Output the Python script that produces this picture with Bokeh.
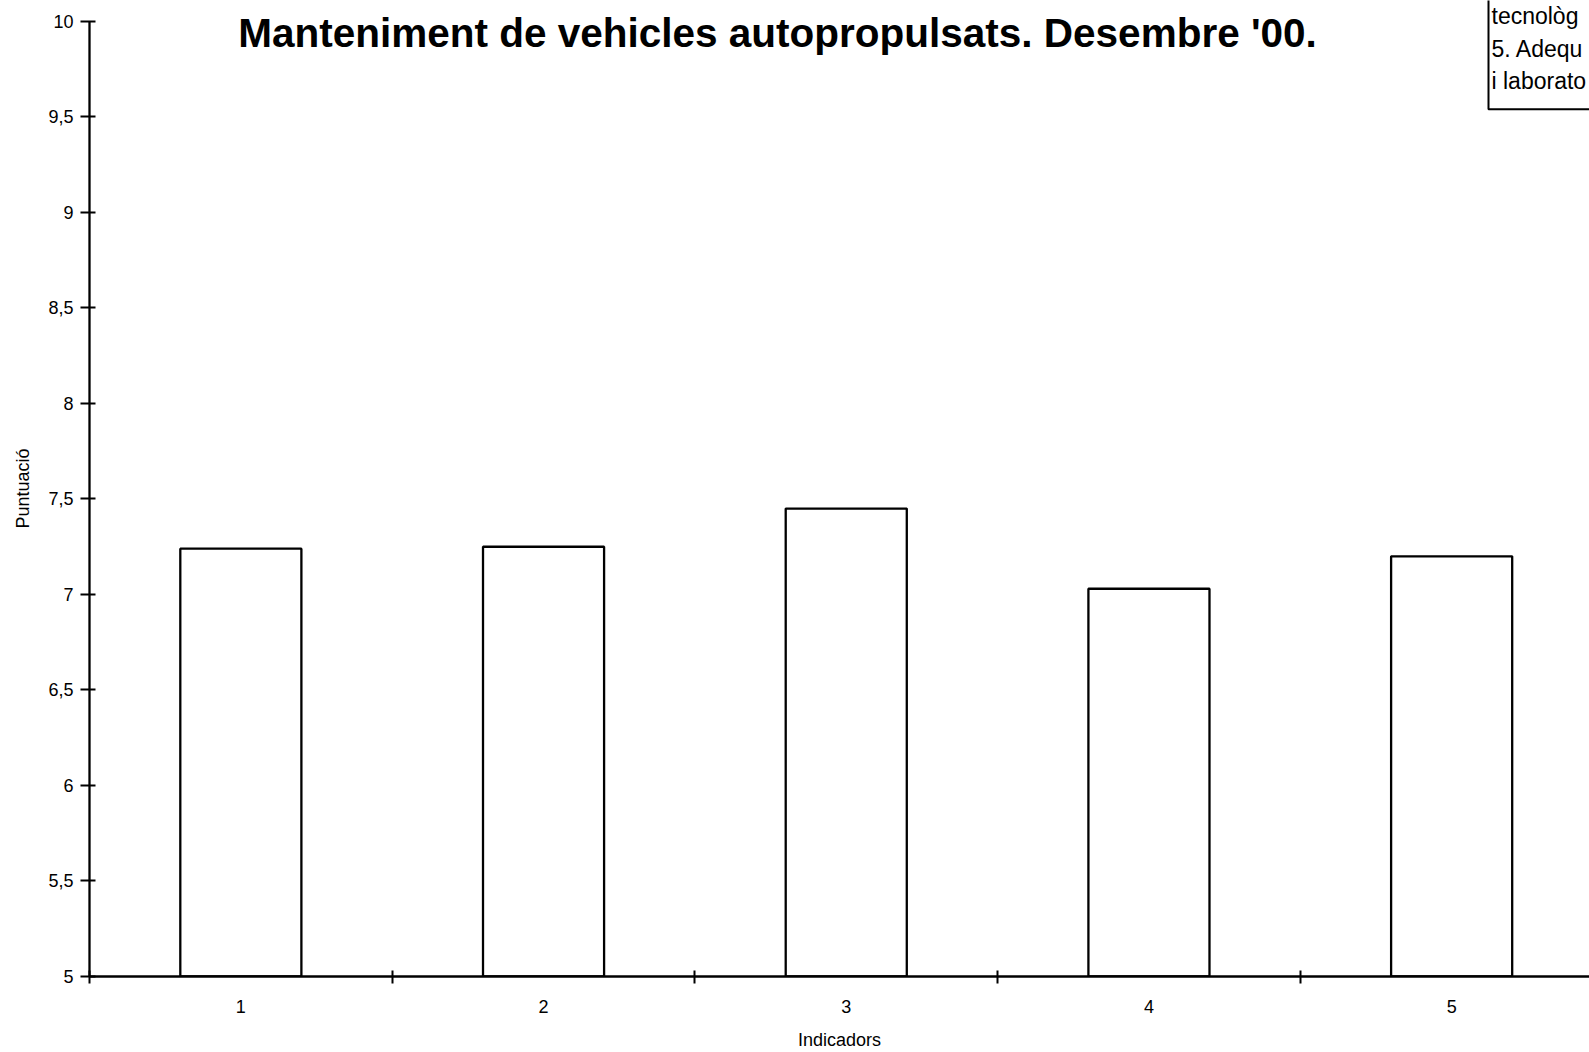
from bokeh.plotting import figure
from bokeh.models import Range1d, FixedTicker, LinearAxis, Label, BoxAnnotation
from bokeh.embed import file_html
from bokeh.resources import INLINE

# ---- data ----
categories = [1, 2, 3, 4, 5]
scores = [7.24, 7.25, 7.45, 7.03, 7.20]
x_boundaries = [0.5, 1.5, 2.5, 3.5, 4.5]
y_ticks = [5, 5.5, 6, 6.5, 7, 7.5, 8, 8.5, 9, 9.5, 10]
y_tick_labels = ["5", "5,5", "6", "6,5", "7", "7,5", "8", "8,5", "9", "9,5", "10"]
title_text = "Manteniment de vehicles autopropulsats. Desembre '00."
note_lines = ["tecnològ", "5. Adequ", "i laborato"]

# ---- geometry (page pixels) ----
W, H = 1589, 1052
LEFT, BOTTOM = 89, 74
PX_PER_CAT = 302.7
PX_PER_UNIT = 191.4
frame_w = W - LEFT
frame_h = H - BOTTOM
x_start = 0.5
x_end = x_start + frame_w / PX_PER_CAT
y_start = 5
y_end = y_start + frame_h / PX_PER_UNIT


def px_x(page_x):
    return x_start + (page_x - LEFT) / PX_PER_CAT


def px_y(page_y):
    return y_start + (H - BOTTOM - page_y) / PX_PER_UNIT


FONT = "Liberation Sans"

p = figure(width=W, height=H, output_backend="svg", toolbar_location=None,
           x_range=Range1d(x_start, x_end), y_range=Range1d(y_start, y_end),
           x_axis_type=None, y_axis_type=None, title_location=None,
           min_border_left=LEFT, min_border_right=0, min_border_top=0,
           min_border_bottom=BOTTOM)
p.outline_line_color = None
p.background_fill_color = "white"
p.border_fill_color = "white"
p.xgrid.visible = False
p.ygrid.visible = False

p.vbar(x=categories, top=scores, bottom=5, width=0.4,
       fill_color="white", line_color="black", line_width=2.3)

xaxis = LinearAxis(ticker=FixedTicker(ticks=categories, minor_ticks=x_boundaries),
                   axis_label="Indicadors")
xaxis.axis_line_width = 2.3
xaxis.axis_line_color = "black"
xaxis.major_tick_in = 0
xaxis.major_tick_out = 0
xaxis.minor_tick_in = 6
xaxis.minor_tick_out = 7
xaxis.minor_tick_line_width = 2
xaxis.minor_tick_line_color = "black"
xaxis.major_label_standoff = 16
xaxis.major_label_text_font = FONT
xaxis.major_label_text_font_size = "18px"
xaxis.major_label_text_color = "black"
xaxis.axis_label_standoff = 14
xaxis.axis_label_text_font = FONT
xaxis.axis_label_text_font_size = "18px"
xaxis.axis_label_text_font_style = "normal"
xaxis.axis_label_text_color = "black"
p.add_layout(xaxis, "below")

yaxis = LinearAxis(ticker=FixedTicker(ticks=y_ticks), axis_label="Puntuació",
                   bounds=(5, 10))
yaxis.major_label_overrides = {float(t): l for t, l in zip(y_ticks, y_tick_labels)}
yaxis.axis_line_width = 2.3
yaxis.axis_line_color = "black"
yaxis.major_tick_in = 6
yaxis.major_tick_out = 9
yaxis.major_tick_line_width = 2
yaxis.major_tick_line_color = "black"
yaxis.minor_tick_in = 0
yaxis.minor_tick_out = 0
yaxis.major_label_standoff = 7
yaxis.major_label_text_font = FONT
yaxis.major_label_text_font_size = "18px"
yaxis.major_label_text_color = "black"
yaxis.axis_label_standoff = 12
yaxis.axis_label_text_font = FONT
yaxis.axis_label_text_font_size = "18px"
yaxis.axis_label_text_font_style = "normal"
yaxis.axis_label_text_color = "black"
p.add_layout(yaxis, "left")

p.add_layout(Label(x=px_x(777), y=px_y(33), text=title_text,
                   text_align="center", text_baseline="middle",
                   text_font=FONT, text_font_style="bold",
                   text_font_size="40.5px", text_color="black"))

p.add_layout(BoxAnnotation(left=px_x(1488), bottom=px_y(109), right=x_end + 1,
                           top=y_end + 1, fill_alpha=0, line_color="black",
                           line_alpha=1, line_width=2))
for i, line in enumerate(note_lines):
    p.add_layout(Label(x=px_x(1491), y=px_y(16 + 32.5 * i), text=line,
                       text_align="left", text_baseline="middle",
                       text_font=FONT, text_font_size="23px", text_color="black"))

open("out.html", "w").write(file_html(p, INLINE))
